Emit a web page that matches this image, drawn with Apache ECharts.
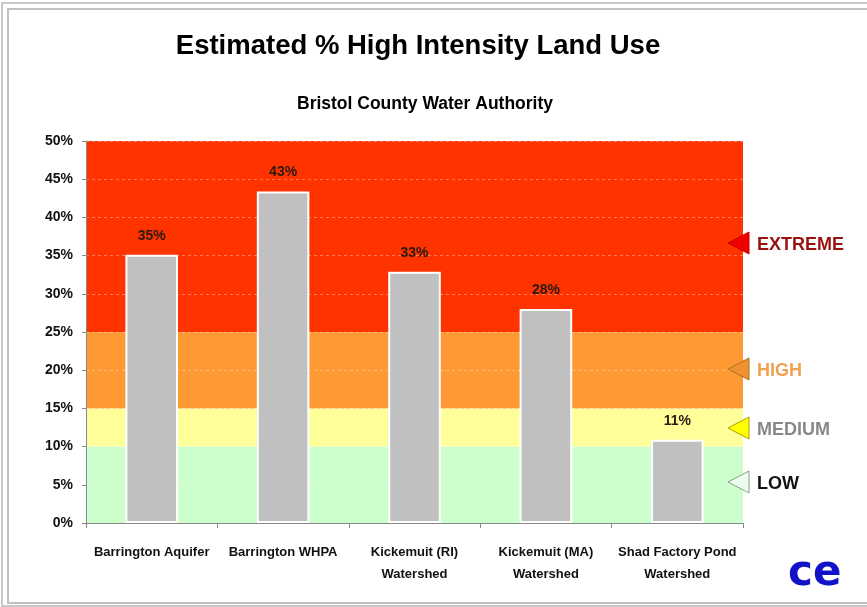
<!DOCTYPE html>
<html><head><meta charset="utf-8">
<script src="https://cdn.jsdelivr.net/npm/echarts@6/dist/echarts.min.js"></script>
<style>html,body{margin:0;padding:0;background:#fff}#c{width:867px;height:607px}</style>
</head><body><div id="c"></div>
<script>
const categories = ['Barrington Aquifer', 'Barrington WHPA', 'Kickemuit (RI)\nWatershed', 'Kickemuit (MA)\nWatershed', 'Shad Factory Pond\nWatershed'];
const values = [35.1, 43.4, 32.9, 28.0, 10.9];
const valueLabels = ['35%', '43%', '33%', '28%', '11%'];
const bandNames = ['LOW', 'MEDIUM', 'HIGH', 'EXTREME'];
const bandFrom = [0, 10, 15, 25];
const bandTo = [10, 15, 25, 50];
const bandColors = ['#ccffcc', '#ffff99', '#ff9933', '#ff3300'];
const yTicks = [0, 5, 10, 15, 20, 25, 30, 35, 40, 45, 50];

const FONT = '"Liberation Sans Narrow", "Liberation Sans", Arial, sans-serif';
const chart = echarts.init(document.getElementById('c'));

const markAreaData = bandFrom.map((f, i) => [
  { yAxis: f, itemStyle: { color: bandColors[i] } },
  { yAxis: bandTo[i] }
]);

// right-side annotations
const annot = [
  { name: 'EXTREME', y: 243, fill: '#ee0000', stroke: '#cc0000', text: '#991111' },
  { name: 'HIGH', y: 369, fill: '#f09030', stroke: '#b07020', text: '#f0a050' },
  { name: 'MEDIUM', y: 428, fill: '#ffff00', stroke: '#b0a000', text: '#888888' },
  { name: 'LOW', y: 482, fill: '#ecfcec', stroke: '#88a088', text: '#111111' }
];
const graphics = [
  { type: 'rect', shape: { x: 2, y: 3, width: 880, height: 603 }, style: { fill: 'none', stroke: '#c8c8c8', lineWidth: 2 }, silent: true },
  { type: 'rect', shape: { x: 8, y: 9, width: 880, height: 594 }, style: { fill: 'none', stroke: '#c0c0c0', lineWidth: 2 }, silent: true },
  { type: 'text', x: 788, y: 553, style: { text: 'ce', font: 'bold 42px "DejaVu Sans", sans-serif', fill: '#1212c8' }, silent: true }
];
annot.forEach(a => {
  graphics.push({ type: 'polygon', shape: { points: [[728, a.y], [749, a.y - 11], [749, a.y + 11]] },
    style: { fill: a.fill, stroke: a.stroke, lineWidth: 1 }, z: 10 });
  graphics.push({ type: 'text', x: 757, y: a.y + 2, style: { text: a.name, font: 'bold 18px ' + FONT, fill: a.text, verticalAlign: 'middle' }, z: 10 });
});

chart.setOption({
  animation: false,
  backgroundColor: '#ffffff',
  title: [
    { text: 'Estimated % High Intensity Land Use', left: 413, top: 27, textAlign: 'center',
      textStyle: { fontFamily: FONT, fontWeight: 'bold', fontSize: 27.5, color: '#000' } },
    { text: 'Bristol County Water Authority', left: 420, top: 90, textAlign: 'center',
      textStyle: { fontFamily: FONT, fontWeight: 'bold', fontSize: 17.5, color: '#000' } }
  ],
  grid: { left: 86, right: 124, top: 141, bottom: 84, containLabel: false },
  xAxis: {
    type: 'category', data: categories,
    axisLine: { show: true, lineStyle: { color: '#888', width: 1 } },
    axisTick: { show: true, alignWithLabel: false, length: 5, lineStyle: { color: '#888' } },
    axisLabel: { fontFamily: FONT, fontWeight: 'bold', fontSize: 13, color: '#111', lineHeight: 22, margin: 18, interval: 0 }
  },
  yAxis: {
    type: 'value', min: 0, max: 50, interval: 5,
    axisLine: { show: true, lineStyle: { color: '#888' } },
    axisTick: { show: true, length: 4, lineStyle: { color: '#888' } },
    axisLabel: { formatter: v => yTicks.includes(v) ? v + '%' : '', fontFamily: FONT, fontWeight: 'bold', fontSize: 14, color: '#111', margin: 13 },
    splitLine: { show: true, lineStyle: { color: 'rgba(255,255,255,0.35)', type: [3, 3], width: 1 } }
  },
  series: [{
    type: 'bar', data: values, barWidth: '40%',
    itemStyle: { color: '#c0c0c0', borderColor: '#ffffff', borderWidth: 2 },
    label: { show: true, position: 'top', distance: 12, formatter: p => valueLabels[p.dataIndex],
      fontFamily: FONT, fontWeight: 'bold', fontSize: 14, color: '#2a1a10' },
    markArea: { silent: true, z: -1, data: markAreaData },
    z: 5
  }],
  graphic: graphics
});
</script></body></html>
